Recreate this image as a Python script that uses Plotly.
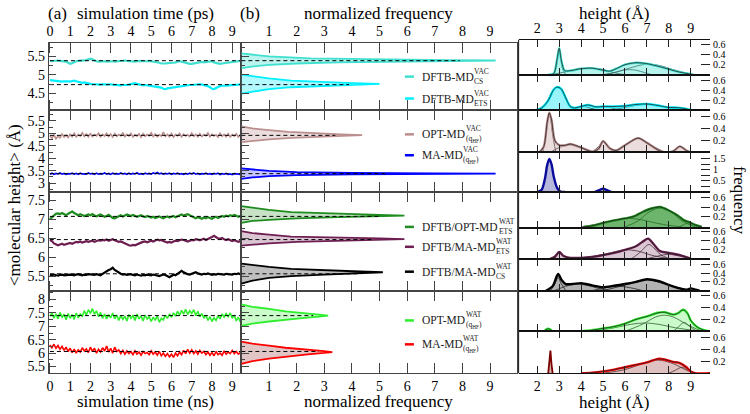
import plotly.graph_objects as go

W, H = 750, 414
FONT = "Liberation Serif, Times New Roman, Times, DejaVu Serif, serif"

# ---------------- data ----------------
TIME_TICKS = [0, 1, 2, 3, 4, 5, 6, 7, 8, 9]
FREQ_TICKS = [1, 2, 3, 4, 5, 6, 7, 8, 9]
HEIGHT_TICKS = [2, 3, 4, 5, 6, 7, 8, 9]
G_TICKS = [[4.5, 5, 5.5], [3, 3.5, 4, 4.5, 5, 5.5], [5.5, 6, 6.5, 7, 7.5], [5.5, 6, 6.5, 7, 7.5, 8]]
C_TICKS = [[0.2, 0.4, 0.6]] * 3 + [[0.5, 1, 1.5]] + [[0.2, 0.4, 0.6]] * 5

# time series (time step 0.1)
cs_vac = [5.37,5.38,5.37,5.38,5.39,5.38,5.38,5.37,5.36,5.33,
          5.30,5.32,5.35,5.37,5.38,5.38,5.39,5.39,5.40,5.42,
          5.44,5.42,5.39,5.37,5.36,5.37,5.38,5.37,5.36,5.37,
          5.38,5.37,5.36,5.37,5.38,5.39,5.40,5.39,5.38,5.37,
          5.38,5.37,5.36,5.37,5.38,5.38,5.37,5.36,5.37,5.38,
          5.37,5.36,5.37,5.35,5.33,5.31,5.30,5.31,5.32,5.33,
          5.34,5.33,5.34,5.36,5.37,5.36,5.34,5.32,5.31,5.30,
          5.30,5.31,5.33,5.35,5.36,5.35,5.34,5.35,5.37,5.38,
          5.37,5.34,5.32,5.31,5.30,5.31,5.32,5.33,5.32,5.33,
          5.34,5.35,5.37,5.39,5.38]
ets_vac = [4.86,4.85,4.84,4.83,4.82,4.81,4.82,4.83,4.84,4.83,
           4.82,4.84,4.85,4.83,4.81,4.80,4.79,4.80,4.78,4.77,
           4.76,4.75,4.76,4.75,4.74,4.75,4.76,4.75,4.74,4.75,
           4.75,4.74,4.73,4.74,4.73,4.72,4.73,4.72,4.73,4.74,
           4.75,4.77,4.78,4.76,4.74,4.73,4.72,4.73,4.72,4.72,
           4.72,4.71,4.70,4.69,4.68,4.66,4.63,4.62,4.64,4.65,
           4.66,4.67,4.68,4.69,4.70,4.71,4.72,4.71,4.72,4.73,
           4.73,4.74,4.73,4.74,4.75,4.74,4.73,4.71,4.70,4.67,
           4.63,4.62,4.65,4.68,4.70,4.71,4.70,4.71,4.72,4.72,
           4.73,4.72,4.73,4.74,4.75]
opt_vac = [4.90,4.80,4.95,4.78,4.88,4.82,4.97,4.85,4.93,4.84,
           4.96,4.87,5.00,4.86,4.95,4.89,5.02,4.88,4.97,4.86,
           4.99,4.87,4.95,4.90,5.01,4.86,4.96,4.89,5.00,4.87,
           4.97,4.85,4.99,4.88,4.95,4.90,5.03,4.87,4.96,4.89,
           5.00,4.86,4.94,4.89,4.98,4.85,4.99,4.88,4.95,4.90,
           5.02,4.87,4.97,4.86,4.94,4.89,5.05,4.88,4.96,4.87,
           4.99,4.85,4.95,4.90,5.00,4.86,4.97,4.89,4.94,4.87,
           5.01,4.88,4.96,4.86,4.99,4.87,4.95,4.90,5.02,4.86,
           4.97,4.89,4.94,4.85,5.00,4.88,4.96,4.87,4.99,4.86,
           4.95,4.89,4.98,4.85,4.93]
ma_vac = [3.36,3.40,3.35,3.39,3.37,3.41,3.36,3.39,3.35,3.38,
          3.37,3.40,3.36,3.39,3.35,3.40,3.37,3.38,3.36,3.41,
          3.37,3.39,3.35,3.40,3.36,3.38,3.37,3.41,3.36,3.39,
          3.35,3.40,3.37,3.38,3.36,3.41,3.37,3.39,3.35,3.40,
          3.36,3.39,3.37,3.42,3.36,3.38,3.35,3.40,3.37,3.39,
          3.36,3.41,3.38,3.43,3.37,3.40,3.36,3.39,3.37,3.40,
          3.35,3.39,3.37,3.40,3.36,3.38,3.35,3.39,3.36,3.40,
          3.37,3.41,3.36,3.39,3.35,3.38,3.37,3.40,3.36,3.38,
          3.35,3.39,3.37,3.40,3.34,3.38,3.36,3.39,3.35,3.37,
          3.34,3.38,3.36,3.37,3.35]
dftb_opt_wat = [7.00,7.05,7.10,7.14,7.15,7.13,7.16,7.12,7.10,7.14,
                7.17,7.20,7.16,7.12,7.10,7.13,7.11,7.08,7.10,7.12,
                7.10,7.13,7.09,7.07,7.10,7.12,7.09,7.06,7.08,7.11,
                7.07,7.03,7.02,7.05,7.08,7.10,7.07,7.09,7.12,7.10,
                7.08,7.11,7.09,7.06,7.08,7.10,7.07,7.05,7.08,7.06,
                7.04,7.06,7.03,7.05,7.07,7.04,7.02,7.05,7.07,7.04,
                7.06,7.08,7.05,7.07,7.10,7.12,7.09,7.11,7.13,7.10,
                7.07,7.04,7.02,7.05,7.03,7.01,7.04,7.02,7.05,7.03,
                7.01,7.04,7.06,7.03,7.05,7.08,7.06,7.09,7.07,7.10,
                7.08,7.11,7.09,7.06,7.08]
dftb_ma_ets_wat = [6.45,6.42,6.36,6.33,6.31,6.33,6.35,6.32,6.34,6.36,
                   6.37,6.35,6.38,6.40,6.39,6.41,6.38,6.40,6.42,6.40,
                   6.41,6.43,6.40,6.42,6.44,6.43,6.45,6.44,6.46,6.43,
                   6.45,6.47,6.44,6.42,6.40,6.41,6.38,6.36,6.33,6.31,
                   6.30,6.32,6.31,6.34,6.36,6.38,6.40,6.41,6.39,6.42,
                   6.43,6.41,6.44,6.46,6.44,6.45,6.42,6.40,6.38,6.40,
                   6.38,6.41,6.43,6.42,6.44,6.46,6.45,6.43,6.41,6.43,
                   6.45,6.44,6.47,6.46,6.44,6.46,6.48,6.45,6.47,6.50,
                   6.53,6.56,6.52,6.49,6.48,6.50,6.47,6.45,6.47,6.44,
                   6.42,6.44,6.41,6.40,6.42]
dftb_ma_cs_wat = [5.53,5.52,5.54,5.53,5.51,5.53,5.54,5.52,5.53,5.52,
                  5.54,5.53,5.52,5.54,5.55,5.53,5.52,5.54,5.53,5.55,
                  5.54,5.52,5.53,5.55,5.54,5.52,5.56,5.60,5.62,5.66,
                  5.68,5.72,5.66,5.62,5.59,5.56,5.54,5.55,5.53,5.54,
                  5.55,5.53,5.52,5.54,5.53,5.51,5.53,5.52,5.54,5.53,
                  5.52,5.54,5.53,5.51,5.50,5.52,5.54,5.53,5.49,5.47,
                  5.50,5.54,5.52,5.56,5.61,5.64,5.60,5.57,5.55,5.54,
                  5.56,5.58,5.60,5.57,5.55,5.54,5.56,5.55,5.57,5.55,
                  5.53,5.55,5.54,5.56,5.55,5.53,5.54,5.56,5.55,5.53,
                  5.54,5.56,5.55,5.57,5.55]
opt_wat = [7.38,7.50,7.30,7.47,7.28,7.52,7.33,7.45,7.25,7.48,
           7.30,7.44,7.26,7.50,7.32,7.46,7.38,7.58,7.42,7.62,
           7.48,7.66,7.45,7.58,7.36,7.52,7.30,7.46,7.28,7.44,
           7.32,7.50,7.28,7.42,7.22,7.40,7.26,7.38,7.20,7.44,
           7.30,7.40,7.22,7.46,7.28,7.38,7.20,7.42,7.27,7.36,
           7.18,7.34,7.22,7.40,7.15,7.30,7.24,7.42,7.30,7.46,
           7.34,7.50,7.38,7.56,7.42,7.60,7.46,7.64,7.44,7.58,
           7.48,7.62,7.40,7.56,7.36,7.48,7.30,7.42,7.22,7.36,
           7.18,7.32,7.22,7.40,7.28,7.46,7.34,7.48,7.36,7.50,
           7.30,7.42,7.20,7.34,7.16]
ma_wat = [6.30,6.20,6.33,6.18,6.28,6.14,6.25,6.10,6.22,6.06,
          6.18,6.02,6.15,6.00,6.12,6.04,6.20,6.08,6.16,6.02,
          6.22,6.06,6.18,6.00,6.14,6.04,6.20,6.08,6.26,6.04,
          6.18,6.00,6.22,6.06,6.12,5.98,6.10,5.96,6.08,5.98,
          6.06,5.94,6.08,5.96,6.04,5.92,6.06,5.98,6.02,5.94,
          6.08,5.96,6.04,5.92,6.06,5.90,6.00,5.88,5.98,5.86,
          5.96,5.84,6.00,5.90,6.04,5.94,6.10,5.98,6.14,6.00,
          6.12,5.98,6.08,5.96,6.10,6.00,6.06,5.94,6.04,5.92,
          6.02,5.90,6.06,5.94,6.00,5.92,6.08,5.96,6.04,5.98,
          6.10,5.98,6.06,5.96,6.02]

mean_height = [5.385, 4.74, 4.92, 3.38, 7.07, 6.46, 5.56, 7.40, 6.06]
dash_end_freq = [7.9, 3.9, 3.4, 5.2, 5.0, 4.7, 4.2, 2.6, 2.8]

# panel (b) distributions: heights and normalized frequency
hb_h = [
    [5.18,5.22,5.27,5.31,5.34,5.36,5.38,5.39,5.40,5.42,5.45,5.50,5.55,5.58],
    [4.50,4.55,4.62,4.67,4.71,4.74,4.76,4.78,4.81,4.85,4.91,4.96,5.01],
    [4.65,4.70,4.76,4.82,4.87,4.90,4.93,4.96,5.00,5.06,5.13,5.20,5.28],
    [3.17,3.23,3.28,3.32,3.35,3.37,3.38,3.39,3.41,3.44,3.49,3.54,3.59],
    [6.90,6.95,6.98,7.02,7.05,7.07,7.09,7.11,7.14,7.18,7.24,7.29,7.34],
    [6.30,6.33,6.36,6.40,6.43,6.45,6.47,6.49,6.51,6.54,6.59,6.63,6.68],
    [5.30,5.38,5.45,5.50,5.54,5.57,5.60,5.62,5.65,5.69,5.74,5.79,5.83],
    [7.02,7.10,7.18,7.25,7.31,7.36,7.40,7.44,7.49,7.56,7.65,7.73,7.82],
    [5.60,5.70,5.79,5.88,5.95,6.00,6.04,6.08,6.13,6.20,6.28,6.35,6.43],
]
hb_f = [
    [0,0.3,1.0,2.0,3.5,5.5,8.0,9.2,7.5,4.5,2.5,1.0,0.3,0],
    [0,0.4,1.0,1.8,3.0,4.3,5.0,4.0,2.8,1.8,1.0,0.4,0],
    [0,0.4,1.0,1.8,2.8,3.7,4.37,3.6,2.6,1.7,1.0,0.4,0],
    [0,0.4,1.0,2.0,4.0,7.0,9.2,7.0,4.0,2.0,1.0,0.4,0],
    [0,0.4,1.0,2.0,3.5,5.0,5.9,5.0,3.2,1.8,1.0,0.4,0],
    [0,0.4,1.0,2.0,3.5,5.0,5.9,5.0,3.2,1.8,1.0,0.4,0],
    [0,0.4,1.0,1.8,3.0,4.2,5.12,4.3,3.0,1.8,1.0,0.4,0],
    [0,0.4,1.0,1.6,2.2,2.8,3.14,2.8,2.2,1.6,1.0,0.4,0],
    [0,0.4,1.0,1.7,2.4,2.9,3.29,2.9,2.3,1.6,1.0,0.4,0],
]

# panel (c) height distributions (data curve) and fitted components
c_h = [
    [2.5,2.75,2.9,3.0,3.1,3.25,3.5,4.0,4.5,5.0,5.3,5.6,6.0,6.5,7.0,7.5,8.0,8.5,9.0,9.1],
    [1.9,2.2,2.5,2.75,2.9,3.1,3.3,3.5,3.7,4.0,4.3,4.7,5.0,5.5,6.0,6.5,7.0,7.5,8.0,8.3,8.7,9.0,9.1],
    [2.1,2.3,2.45,2.55,2.65,2.8,3.0,3.3,3.5,4.0,4.5,4.8,5.0,5.3,5.6,6.0,6.6,7.0,7.5,7.8,8.2,8.5,8.8,9.0],
    [1.15,2.0,2.2,2.35,2.45,2.55,2.65,2.75,2.9,3.05,3.3,4.6,4.8,5.0,5.2,5.4,9.9],
    [4.1,4.5,5.0,5.5,6.0,6.4,6.8,7.2,7.6,8.0,8.4,8.7,8.9,9.2,9.5],
    [2.6,2.8,3.0,3.2,3.5,4.0,4.5,5.0,5.5,6.0,6.5,6.8,7.05,7.3,7.6,8.0,8.5,9.0],
    [2.4,2.7,2.95,3.1,3.3,3.6,4.0,4.5,5.0,5.5,6.0,6.5,7.0,7.5,8.0,8.5,8.8,9.0,9.2,9.4],
    [2.3,2.4,2.5,2.6,2.7,None,3.9,4.5,5.0,5.5,6.0,6.5,7.0,7.5,7.8,8.2,8.4,8.65,8.85,9.0,9.3,9.6,9.9],
    [4.0,4.5,5.0,5.5,6.0,6.5,7.0,7.5,7.8,8.2,8.5,8.8,9.0,9.2,9.9],
]
c_f = [
    [0,0.02,0.3,0.53,0.28,0.08,0.08,0.12,0.13,0.09,0.07,0.12,0.2,0.24,0.22,0.17,0.11,0.05,0.01,0],
    [0,0.05,0.2,0.42,0.47,0.43,0.25,0.08,0.05,0.08,0.11,0.07,0.08,0.08,0.09,0.12,0.13,0.1,0.06,0.06,0.04,0.01,0],
    [0,0.1,0.5,0.67,0.55,0.2,0.12,0.12,0.14,0.08,0.01,0.06,0.19,0.07,0.03,0.12,0.24,0.16,0.04,0.0,0.02,0.1,0.03,0],
    [0,0,0.1,0.6,1.2,1.49,1.25,0.7,0.2,0.02,0,0,0.08,0.15,0.08,0,0],
    [0,0.02,0.08,0.13,0.17,0.21,0.3,0.37,0.4,0.33,0.23,0.13,0.1,0.04,0],
    [0,0.04,0.15,0.06,0.02,0.02,0.04,0.08,0.13,0.2,0.28,0.38,0.45,0.33,0.17,0.13,0.08,0],
    [0,0.1,0.38,0.25,0.15,0.15,0.17,0.12,0.08,0.11,0.15,0.2,0.26,0.22,0.13,0.05,0.02,0.05,0.02,0],
    [0,0.03,0.045,0.03,0,None,0,0.02,0.05,0.08,0.13,0.2,0.25,0.31,0.32,0.28,0.3,0.36,0.3,0.18,0.07,0.02,0],
    [0,0.01,0.03,0.06,0.1,0.14,0.18,0.24,0.23,0.19,0.17,0.1,0.03,0,0],
]
spike_h = [2.5, 2.55, 2.6, 2.65, 2.7]
spike_f = [0, 0.15, 0.38, 0.15, 0]

comp_h = [
    [[2.7,2.85,2.95,3.0,3.05,3.15,3.3],[2.5,3.0,3.5,4.0,4.4,4.8,5.2,5.6,6.0],[5.1,5.5,5.9,6.2,6.5,6.9,7.2],[5.0,5.6,6.2,6.8,7.1,7.6,8.2,8.8,9.2]],
    [[2.0,2.4,2.7,2.9,3.1,3.4,3.8],[3.5,3.8,4.1,4.4,4.7],[4.2,4.6,5.0,5.4,5.8],[5.3,6.0,6.6,7.0,7.4,8.0,8.6],[7.9,8.2,8.5,8.8,9.1]],
    [[2.25,2.4,2.5,2.55,2.6,2.7,2.85],[2.6,3.0,3.5,4.0,4.6],[4.5,4.8,5.0,5.2,5.5],[5.5,6.0,6.6,7.2,7.8],[8.1,8.3,8.5,8.7,8.9]],
    [],
    [[4.0,5.0,5.5,6.0,6.5,7.0,7.5,8.0,8.6],[6.0,6.6,7.1,7.6,8.1,8.6,9.2],[8.5,8.7,8.9,9.1,9.3]],
    [[2.6,2.8,3.0,3.2,3.4],[3.5,4.5,5.3,6.0,6.6,7.2,8.0],[6.3,6.7,7.0,7.1,7.3,7.6,8.0],[7.0,7.5,8.0,8.5,9.0]],
    [[2.6,2.8,2.95,3.1,3.3],[2.8,3.3,3.8,4.3,4.8,5.3],[4.5,5.0,5.6,6.2,6.8],[5.0,5.8,6.5,7.0,7.5,8.2,9.0]],
    [[4.5,5.5,6.3,6.9,7.5,8.3,9.5],[6.0,6.8,7.4,7.8,8.2,8.8,9.5],[8.2,8.45,8.7,8.95,9.3]],
    [[5.0,6.0,6.8,7.5,8.2,8.8,9.2],[8.0,8.3,8.6,8.9,9.2]],
]
comp_f = [
    [[0,0.12,0.45,0.52,0.45,0.12,0],[0,0.03,0.08,0.12,0.13,0.12,0.08,0.03,0],[0,0.04,0.09,0.1,0.09,0.04,0],[0,0.05,0.13,0.2,0.21,0.18,0.1,0.03,0]],
    [[0,0.15,0.4,0.47,0.4,0.15,0],[0,0.05,0.08,0.05,0],[0,0.05,0.08,0.05,0],[0,0.06,0.11,0.13,0.11,0.06,0],[0,0.03,0.05,0.03,0]],
    [[0,0.3,0.6,0.66,0.6,0.3,0],[0,0.08,0.13,0.08,0],[0,0.1,0.18,0.1,0],[0,0.12,0.24,0.12,0],[0,0.05,0.1,0.05,0]],
    [],
    [[0,0.08,0.13,0.17,0.16,0.12,0.07,0.03,0],[0,0.12,0.3,0.38,0.3,0.12,0],[0,0.05,0.08,0.05,0]],
    [[0,0.07,0.14,0.07,0],[0,0.05,0.13,0.2,0.17,0.08,0],[0,0.15,0.3,0.32,0.25,0.1,0],[0,0.06,0.1,0.06,0]],
    [[0,0.15,0.3,0.15,0],[0,0.1,0.15,0.12,0.05,0],[0,0.05,0.1,0.07,0],[0,0.1,0.2,0.25,0.2,0.1,0]],
    [[0,0.06,0.12,0.14,0.12,0.06,0],[0,0.12,0.24,0.27,0.24,0.12,0],[0,0.08,0.15,0.08,0]],
    [[0,0.06,0.16,0.22,0.16,0.05,0],[0,0.05,0.1,0.05,0]],
]

LEG_MAIN = ["DFTB-MD", "DFTB-MD", "OPT-MD", "MA-MD", "DFTB/OPT-MD", "DFTB/MA-MD", "DFTB/MA-MD", "OPT-MD", "MA-MD"]
LEG_SUP = ["VAC", "VAC", "VAC", "VAC", "WAT", "WAT", "WAT", "WAT", "WAT"]
LEG_SUB = ["CS", "ETS", "(q<sub>HF</sub>)", "(q<sub>HF</sub>)", "ETS", "ETS", "CS", "(q<sub>HF</sub>)", "(q<sub>HF</sub>)"]

SERIES = [cs_vac, ets_vac, opt_vac, ma_vac, dftb_opt_wat, dftb_ma_ets_wat, dftb_ma_cs_wat, opt_wat, ma_wat]
GROUPS = [[0, 1], [2, 3], [4, 5, 6], [7, 8]]

# ---------------- styles ----------------
COLORS = ['#40E0D0', '#00F0FF', '#BC8F8F', '#0000FF', '#1E8C1E', '#6E1E50', '#000000', '#2EEE2E', '#FF0000']
FILL_B = ['rgba(64,224,208,0.35)', 'rgba(0,240,255,0.3)', 'rgba(188,143,143,0.3)', 'rgba(0,0,255,0.22)',
          'rgba(30,140,30,0.25)', 'rgba(110,30,80,0.25)', 'rgba(0,0,0,0.25)', 'rgba(46,238,46,0.25)', 'rgba(150,50,50,0.28)']
C_LINE = ['#40E0D0', '#00F0FF', '#BC8F8F', '#0A0A9A', '#1E8C1E', '#6E1E50', '#000000', '#2EEE2E', '#FF0000']
C_FILL = ['rgba(64,224,208,0.38)', 'rgba(0,230,240,0.4)', 'rgba(188,143,143,0.3)', 'rgba(50,50,160,0.35)',
          'rgba(30,140,30,0.65)', 'rgba(110,30,80,0.25)', 'rgba(0,0,0,0.3)', 'rgba(46,238,46,0.25)', 'rgba(150,50,50,0.3)']
AXC = '#444444'

A_X = (47, 240)
B_X = (240, 516)
C_X = (518, 710)
G_Y = [(42, 110), (110, 192), (192, 291), (291, 374)]
G_RANGE = [(4.044, 5.867), (2.64, 5.92), (5.118, 7.71), (5.249, 8.335)]
C_Y = [(39, 74), (74, 110), (110, 152), (152, 192), (192, 228), (228, 259), (259, 291), (291, 332), (332, 374)]
C_RANGE = [(0, 0.70), (0, 0.72), (0, 0.71), (0, 1.79), (-0.02, 0.70), (0, 0.69), (0, 0.73), (0, 0.68), (0, 0.70)]
LEG_Y = [76, 98, 134, 155, 227, 247, 272, 321, 345]


def names(n):
    if n == 1:
        return 'xaxis', 'yaxis', 'x', 'y'
    return f'xaxis{n}', f'yaxis{n}', f'x{n}', f'y{n}'


def xdom(a):
    return [a[0] / W, a[1] / W]


def ydom(a):
    return [1 - a[1] / H, 1 - a[0] / H]


def fmt(v):
    return '%g' % v


TIMES_W = {'A': .722, 'B': .667, 'C': .667, 'D': .722, 'F': .556, 'M': .889, 'O': .722, 'P': .556,
           'T': .611, '-': .333, '/': .278}


def text_w(s, size):
    return sum(TIMES_W.get(c, 0.5) for c in s) * size


fig = go.Figure()
lay = dict(width=W, height=H, margin=dict(l=0, r=0, t=0, b=0), paper_bgcolor='white',
           plot_bgcolor='rgba(0,0,0,0)', showlegend=False,
           font=dict(family=FONT, size=13, color='black'))

tickfont = dict(family=FONT, size=14, color='black')

# ---- panel a and b axes ----
for g in range(4):
    xa, ya, xr, yr = names(g + 1)
    lay[xa] = dict(domain=xdom(A_X), range=[-0.05, 9.45], anchor=yr, tickmode='array', tickvals=TIME_TICKS,
                   ticktext=[str(v) for v in TIME_TICKS], ticks='inside', ticklen=10, tickcolor=AXC,
                   showline=True, linecolor=AXC, mirror='ticks', showgrid=False, zeroline=False,
                   showticklabels=g in (0, 3), side='top' if g == 0 else 'bottom', tickfont=tickfont)
    lay[ya] = dict(domain=ydom(G_Y[g]), range=list(G_RANGE[g]), anchor=xr, tickmode='array',
                   tickvals=G_TICKS[g], ticktext=[fmt(v) for v in G_TICKS[g]], ticks='inside', ticklen=7,
                   tickcolor=AXC, minor=dict(ticks='inside', ticklen=4, dtick=0.25, tick0=0, tickcolor=AXC),
                   showline=True, linecolor=AXC, mirror=True, showgrid=False, zeroline=False, tickfont=tickfont)
    xa, ya, xr, yr = names(g + 5)
    lay[xa] = dict(domain=xdom(B_X), range=[0, 9.96], anchor=yr, tickmode='array', tickvals=FREQ_TICKS,
                   ticktext=[str(v) for v in FREQ_TICKS], ticks='inside', ticklen=10, tickcolor=AXC,
                   showline=True, linecolor=AXC, mirror='ticks', showgrid=False, zeroline=False,
                   showticklabels=g in (0, 3), side='top' if g == 0 else 'bottom', tickfont=tickfont)
    lay[ya] = dict(domain=ydom(G_Y[g]), range=list(G_RANGE[g]), anchor=xr, tickmode='array',
                   tickvals=G_TICKS[g], ticks='inside', ticklen=8, tickcolor=AXC, showticklabels=False,
                   minor=dict(ticks='inside', ticklen=4, dtick=0.25, tick0=0, tickcolor=AXC),
                   showline=True, linecolor=AXC, mirror=True, showgrid=False, zeroline=False)

# ---- panel c axes ----
for r in range(9):
    xa, ya, xr, yr = names(r + 9)
    lay[xa] = dict(domain=xdom(C_X), range=[1.15, 9.88], anchor=yr, tickmode='array', tickvals=HEIGHT_TICKS,
                   ticktext=[str(v) for v in HEIGHT_TICKS], ticks='inside', ticklen=7, tickcolor='#222',
                   showline=True, linecolor='#111', mirror='ticks', showgrid=False, zeroline=False,
                   showticklabels=r in (0, 8), side='top' if r == 0 else 'bottom', tickfont=tickfont)
    ydict = dict(domain=ydom(C_Y[r]), range=list(C_RANGE[r]), anchor=xr, side='right', tickmode='array',
                 tickvals=C_TICKS[r], ticktext=[fmt(v) for v in C_TICKS[r]], ticks='inside', ticklen=9,
                 tickcolor='#222', showline=False, showgrid=False, zeroline=False, ticklabelstandoff=2,
                 tickfont=dict(family=FONT, size=10, color='black'))
    if r == 3:
        ydict['minor'] = dict(ticks='inside', ticklen=9, dtick=0.25, tick0=0, tickcolor='#222')
    lay[ya] = ydict

# ---- traces: panel a ----
for g, idxs in enumerate(GROUPS):
    _, _, xr, yr = names(g + 1)
    _, _, xrb, yrb = names(g + 5)
    for i in idxs:
        s = SERIES[i]
        t = [round(0.1 * k, 1) for k in range(len(s))]
        noisy = i in (2, 3, 7, 8)
        fig.add_trace(go.Scatter(x=t, y=s, mode='lines', xaxis=xr, yaxis=yr,
                                 line=dict(color=COLORS[i], width=1.6 if noisy else 2.2)))
        fig.add_trace(go.Scatter(x=[0, 9.45], y=[mean_height[i]] * 2, mode='lines', xaxis=xr, yaxis=yr,
                                 line=dict(color='black', width=1, dash='4px,3px')))
        # panel b
        fig.add_trace(go.Scatter(x=hb_f[i], y=hb_h[i], mode='lines', fill='toself', fillcolor=FILL_B[i],
                                 xaxis=xrb, yaxis=yrb, line=dict(color=COLORS[i], width=1.8)))
        fig.add_trace(go.Scatter(x=[0, dash_end_freq[i]], y=[mean_height[i]] * 2, mode='lines',
                                 xaxis=xrb, yaxis=yrb, line=dict(color='black', width=1, dash='4px,3px')))

# ---- traces: panel c ----
for r in range(9):
    _, _, xr, yr = names(r + 9)
    for ch, cf in zip(comp_h[r], comp_f[r]):
        fig.add_trace(go.Scatter(x=ch, y=cf, mode='lines', xaxis=xr, yaxis=yr,
                                 line=dict(color='#333333', width=0.8, shape='spline', smoothing=0.9)))
    fig.add_trace(go.Scatter(x=c_h[r], y=c_f[r], mode='lines', fill='tozeroy', fillcolor=C_FILL[r],
                             xaxis=xr, yaxis=yr, connectgaps=False,
                             line=dict(color=C_LINE[r], width=2.4, shape='spline', smoothing=0.8)))
    if r not in (3, 6):
        fig.add_trace(go.Scatter(x=c_h[r], y=c_f[r], mode='lines', xaxis=xr, yaxis=yr, connectgaps=False,
                                 line=dict(color='#222222', width=0.8, shape='spline', smoothing=0.8)))
    if r == 8:
        fig.add_trace(go.Scatter(x=spike_h, y=spike_f, mode='lines', xaxis=xr, yaxis=yr,
                                 fill='tozeroy', fillcolor='rgba(128,0,0,0.3)',
                                 line=dict(color='#7A0000', width=1.8)))

# ---- shapes: panel c left border, legend samples ----
shapes = [dict(type='line', xref='paper', yref='paper', x0=C_X[0] / W, x1=C_X[0] / W,
               y0=1 - C_Y[-1][1] / H, y1=1 - C_Y[0][0] / H, line=dict(color='#111', width=1))]
ann = []
LEG_X = 419
for i in range(9):
    ly = LEG_Y[i]
    shapes.append(dict(type='line', xref='paper', yref='paper', x0=404 / W, x1=413 / W,
                       y0=1 - ly / H, y1=1 - ly / H, line=dict(color=COLORS[i], width=2.5)))
    fs = 11.5
    ann.append(dict(text=LEG_MAIN[i], x=LEG_X / W, y=1 - ly / H, xref='paper', yref='paper',
                    xanchor='left', yanchor='middle', showarrow=False,
                    font=dict(family=FONT, size=fs, color='#222')))
    xs = LEG_X + text_w(LEG_MAIN[i], fs) + 0.5
    ann.append(dict(text=LEG_SUP[i], x=xs / W, y=1 - (ly - 5.5) / H, xref='paper', yref='paper',
                    xanchor='left', yanchor='middle', showarrow=False,
                    font=dict(family=FONT, size=7.5, color='#222')))
    ann.append(dict(text=LEG_SUB[i], x=xs / W, y=1 - (ly + 5) / H, xref='paper', yref='paper',
                    xanchor='left', yanchor='middle', showarrow=False,
                    font=dict(family=FONT, size=7.5, color='#222')))

TITLE_FONT = dict(family=FONT, size=17, color='black')
for txt, x, y in [("(a)", 56, 13), ("simulation time (ps)", 144, 13), ("(b)", 249, 13),
                  ("normalized frequency", 378, 13), ("height (Å)", 614, 13),
                  ("simulation time (ns)", 144, 402), ("normalized frequency", 378, 402),
                  ("height (Å)", 614, 403)]:
    ann.append(dict(text=txt, x=x / W, y=1 - y / H, xref='paper', yref='paper', xanchor='center',
                    yanchor='middle', showarrow=False, font=TITLE_FONT))
ann.append(dict(text="&lt;molecular height&gt; (Å)", x=12 / W, y=1 - 205 / H, xref='paper', yref='paper',
                xanchor='center', yanchor='middle', showarrow=False, textangle=-90, font=TITLE_FONT))
ann.append(dict(text="frequency", x=740 / W, y=1 - 200 / H, xref='paper', yref='paper',
                xanchor='center', yanchor='middle', showarrow=False, textangle=90, font=TITLE_FONT))

lay['shapes'] = shapes
lay['annotations'] = ann
fig.update_layout(**lay)
fig.write_html("out.html", config={'displayModeBar': False},
               post_script="document.body.style.margin='0';document.body.style.padding='0';")
